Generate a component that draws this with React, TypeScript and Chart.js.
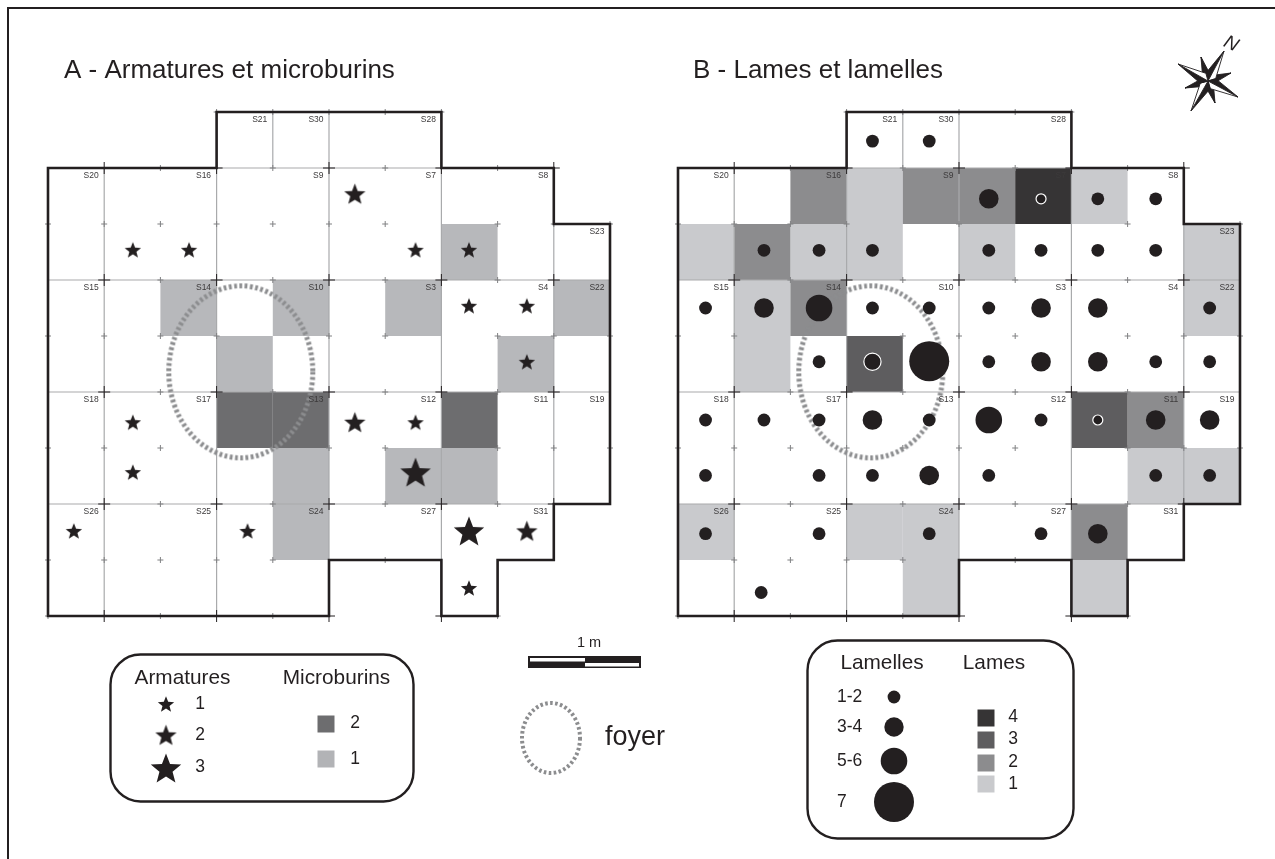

import React, { useEffect, useRef } from "react";
import { Chart, registerables } from "chart.js";

Chart.register(...registerables);

const W = 1275, H = 859;
const CW = 56.2, CH = 56, AX0 = 48, BX0 = 678, Y0 = 112;
const INK = "#231f20";

// ---- data ---- (grid units: one unit = one square)
const outline: number[][] = [[3,0],[7,0],[7,1],[9,1],[9,2],[10,2],[10,7],[9,7],[9,8],[8,8],[8,9],[7,9],[7,8],[5,8],[5,9],[0,9],[0,1],[3,1],[3,0]];
const gridSegments: number[][][] = [
  [[1,1],[1,9]],[[3,1],[3,9]],[[4,0],[4,1]],[[5,0],[5,8]],[[7,1],[7,8]],[[9,2],[9,7]],[[9,7],[9,8]],
  [[3,1],[7,1]],[[0,3],[10,3]],[[0,5],[10,5]],[[0,7],[10,7]],
];
const blackTicks: number[][] = [[1,1],[3,1],[5,1],[7,1],[9,1],[1,3],[3,3],[5,3],[7,3],[9,3],[1,5],[3,5],[5,5],[7,5],[9,5],[1,7],[3,7],[5,7],[7,7],[9,7],[1,9],[3,9],[5,9],[7,9]];
const smallTicksA: number[][] = [[3,0],[4,0],[5,0],[6,0],[7,0],[2,1],[4,1],[6,1],[8,1],[0,2],[1,2],[2,2],[3,2],[4,2],[5,2],[6,2],[8,2],[9,2],[10,2],[2,3],[4,3],[6,3],[8,3],[0,4],[1,4],[2,4],[3,4],[5,4],[6,4],[8,4],[9,4],[10,4],[2,5],[4,5],[6,5],[8,5],[0,6],[1,6],[2,6],[5,6],[6,6],[8,6],[9,6],[10,6],[2,7],[4,7],[6,7],[8,7],[0,8],[1,8],[2,8],[3,8],[4,8],[6,8],[0,9],[2,9],[4,9],[8,9]];
const smallTicksB: number[][] = [[3,0],[4,0],[5,0],[6,0],[7,0],[2,1],[4,1],[6,1],[8,1],[0,2],[1,2],[2,2],[3,2],[5,2],[8,2],[10,2],[2,3],[4,3],[6,3],[8,3],[0,4],[1,4],[4,4],[5,4],[6,4],[8,4],[9,4],[10,4],[2,5],[4,5],[6,5],[8,5],[0,6],[1,6],[2,6],[3,6],[4,6],[5,6],[6,6],[8,6],[9,6],[10,6],[2,7],[4,7],[6,7],[8,7],[1,8],[2,8],[3,8],[4,8],[6,8],[0,9],[2,9],[4,9],[8,9]];

const microburins1: number[][] = [[7,2],[2,3],[4,3],[6,3],[9,3],[3,4],[8,4],[4,6],[6,6],[7,6],[4,7]];
const microburins2: number[][] = [[3,5],[4,5],[7,5]];

const lames1: number[][] = [[3,1],[7,1],[0,2],[2,2],[3,2],[5,2],[9,2],[1,3],[9,3],[1,4],[8,6],[9,6],[0,7],[3,7],[4,7],[4,8],[7,8]];
const lames2: number[][] = [[2,1],[4,1],[5,1],[1,2],[2,3],[8,5],[7,7]];
const lames3: number[][] = [[3,4],[7,5]];
const lames4: number[][] = [[6,1]];

const armatures1: number[][] = [[1.51,2.46],[2.51,2.46],[6.54,2.46],[7.49,2.46],[7.49,3.46],[8.52,3.46],[8.52,4.46],[1.51,5.54],[6.54,5.54],[1.51,6.43],[0.46,7.48],[3.55,7.48],[7.49,8.5]];
const armatures2: number[][] = [[5.46,1.46],[5.46,5.54],[8.52,7.48]];
const armatures3: number[][] = [[6.54,6.43],[7.49,7.48]];

const lamelles12: number[][] = [[3.46,0.52],[4.47,0.52],[7.47,1.55],[8.5,1.55],[1.53,2.47],[2.51,2.47],[3.46,2.47],[5.53,2.47],[6.46,2.47],[7.47,2.47],[8.5,2.47],[0.49,3.5],[3.46,3.5],[4.47,3.5],[5.53,3.5],[9.46,3.5],[2.51,4.46],[5.53,4.46],[8.5,4.46],[9.46,4.46],[0.49,5.5],[1.53,5.5],[2.51,5.5],[4.47,5.5],[6.46,5.5],[0.49,6.49],[2.51,6.49],[3.46,6.49],[5.53,6.49],[8.5,6.49],[9.46,6.49],[0.49,7.53],[2.51,7.53],[4.47,7.53],[6.46,7.53],[1.48,8.58]];
const lamelles34: number[][] = [[5.53,1.55],[1.53,3.5],[6.46,3.5],[7.47,3.5],[6.46,4.46],[7.47,4.46],[3.46,5.5],[8.5,5.5],[9.46,5.5],[4.47,6.49],[7.47,7.53]];
const lamelles56: number[][] = [[2.51,3.5],[5.53,5.5]];
const lamelles7: number[][] = [[4.47,4.45]];
const lamellesRingSmall: number[][] = [[6.46,1.55],[7.47,5.5]];
const lamellesRingMedium: number[][] = [[3.46,4.46]];

const foyerCentre: number[][] = [[3.43,4.64]];

const squareLabels: [string, number, number][] = [
  ["S21",4,0],["S30",5,0],["S28",7,0],["S20",1,1],["S16",3,1],["S9",5,1],["S7",7,1],["S8",9,1],["S23",10,2],
  ["S15",1,3],["S14",3,3],["S10",5,3],["S3",7,3],["S4",9,3],["S22",10,3],["S18",1,5],["S17",3,5],["S13",5,5],
  ["S12",7,5],["S11",9,5],["S19",10,5],["S26",1,7],["S25",3,7],["S24",5,7],["S27",7,7],["S31",9,7],
];

// legend marks (page units)
const legendStars: number[][][] = [[[166,704]],[[166,735]],[[166,768]]];
const legendMicro: number[][][] = [[[326,724]],[[326,759]]];
const legendFoyer: number[][] = [[551,738]];
const legendLamelles: number[][][] = [[[894,697]],[[894,727]],[[894,761]],[[894,802]]];
const legendLames: number[][][] = [[[986,718]],[[986,740]],[[986,763]],[[986,784]]];

type T = [string, number, number, number, string];
const texts: T[] = [
  ["A - Armatures et microburins",64,71,26,"left"],
  ["B - Lames et lamelles",693,71,26,"left"],
  ["Armatures",182.5,678,20.8,"center"],["Microburins",336.5,678,20.8,"center"],
  ["1",200,704,17.5,"center"],["2",200,735,17.5,"center"],["3",200,767,17.5,"center"],
  ["2",355,723,17.5,"center"],["1",355,759,17.5,"center"],
  ["1 m",589,643,14.5,"center"],["foyer",605,738,27,"left"],
  ["Lamelles",882,663,20.8,"center"],["Lames",994,663,20.8,"center"],
  ["1-2",837,697,17.5,"left"],["3-4",837,727,17.5,"left"],["5-6",837,761,17.5,"left"],["7",837,802,17.5,"left"],
  ["4",1013,717,17.5,"center"],["3",1013,739,17.5,"center"],["2",1013,762,17.5,"center"],["1",1013,784,17.5,"center"],
];

// ---- helpers ----
const pts = (a: number[][]) => a.map(([x, y]) => ({ x, y }));

function starImage(r: number) {
  const s = Math.ceil(r * 2 + 6);
  const c = document.createElement("canvas");
  c.width = s; c.height = s;
  const g = c.getContext("2d")!;
  g.translate(s / 2, s / 2 + r * 0.095);
  g.beginPath();
  for (let i = 0; i < 10; i++) {
    const rr = i % 2 ? r * 0.43 : r;
    const a = -Math.PI / 2 + (i * Math.PI) / 5;
    g.lineTo(rr * Math.cos(a), rr * Math.sin(a));
  }
  g.closePath();
  g.fillStyle = INK;
  g.fill();
  return c;
}

function ellipseImage(rx: number, ry: number, lw: number, dash: number[]) {
  const w = Math.ceil(rx * 2 + lw + 4), h = Math.ceil(ry * 2 + lw + 4);
  const c = document.createElement("canvas");
  c.width = w; c.height = h;
  const g = c.getContext("2d")!;
  g.beginPath();
  g.ellipse(w / 2, h / 2, rx, ry, 0, 0, Math.PI * 2);
  g.lineWidth = lw;
  g.setLineDash(dash);
  g.strokeStyle = "#8c8d8f";
  g.stroke();
  return c;
}

function arm(g: CanvasRenderingContext2D, x: number, y: number, inner: number, whiteSide: boolean) {
  const a = Math.atan2(y, x);
  const lx = Math.cos(a - Math.PI / 4) * inner, ly = Math.sin(a - Math.PI / 4) * inner;
  const rx = Math.cos(a + Math.PI / 4) * inner, ry = Math.sin(a + Math.PI / 4) * inner;
  g.lineWidth = 0.9;
  g.strokeStyle = INK;
  g.beginPath(); g.moveTo(0, 0); g.lineTo(lx, ly); g.lineTo(x, y); g.closePath();
  g.fillStyle = INK; g.fill(); g.stroke();
  g.beginPath(); g.moveTo(0, 0); g.lineTo(rx, ry); g.lineTo(x, y); g.closePath();
  g.fillStyle = whiteSide ? "#fff" : INK; g.fill(); g.stroke();
}

const pagePlugin = {
  id: "page",
  beforeDatasetsDraw(chart: any) {
    const g = chart.ctx as CanvasRenderingContext2D;
    g.save();
    g.fillStyle = "#fff";
    g.fillRect(0, 0, W, H);
    // frame
    g.strokeStyle = INK;
    g.lineWidth = 2;
    g.beginPath();
    g.moveTo(8, H); g.lineTo(8, 8); g.lineTo(W, 8);
    g.stroke();
    // legend boxes
    g.lineWidth = 2.4;
    g.beginPath(); g.roundRect(110.5, 654.5, 303, 147, 30); g.stroke();
    g.beginPath(); g.roundRect(807.5, 640.5, 266, 198, 30); g.stroke();
    // scale bar
    g.fillStyle = INK;
    g.fillRect(528, 656, 113, 12);
    g.fillStyle = "#fff";
    g.fillRect(530, 658, 55, 3.5);
    g.fillRect(585, 663, 54, 3.5);
    g.restore();
  },
  afterDatasetsDraw(chart: any) {
    const g = chart.ctx as CanvasRenderingContext2D;
    g.save();
    // square labels
    g.font = '8.5px "Liberation Sans"';
    g.fillStyle = "#3c3a3b";
    g.textAlign = "right";
    g.textBaseline = "middle";
    for (const id of ["xA", "xB"]) {
      for (const [t, c, r] of squareLabels) {
        g.fillText(t, chart.scales[id].getPixelForValue(c) - 5.5, chart.scales.y.getPixelForValue(r) + 7.5);
      }
    }
    // page texts
    g.fillStyle = INK;
    for (const [t, x, y, s, al] of texts) {
      g.font = `${s}px "Liberation Sans"`;
      g.textAlign = al as CanvasTextAlign;
      g.fillText(t, x, y);
    }
    // compass
    g.translate(1208, 81);
    ([[-7,-24],[23,-8],[7,22],[-23,7]] as number[][]).forEach(([x, y]) => arm(g, x, y, 6, false));
    ([[16,-30],[30,16],[-17,30],[-30,-17]] as number[][]).forEach(([x, y]) => arm(g, x, y, 8, true));
    g.fillStyle = INK;
    g.save();
    g.translate(23, -37);
    g.rotate(0.45);
    g.font = 'italic 19px "Liberation Sans"';
    g.textAlign = "center";
    g.fillText("N", 0, 0);
    g.restore();
    g.restore();
  },
};

const rectR = (side: number) => side / Math.SQRT2;

export default function App() {
  const ref = useRef<HTMLCanvasElement>(null);
  useEffect(() => {
    const star1 = starImage(8.6), star2 = starImage(11.2), star3 = starImage(16);
    const foyer = ellipseImage(72, 86, 5, [2.8, 2.5]);
    const foyerSmall = ellipseImage(29, 35, 4, [2.6, 2.4]);
    const ds: any[] = [];
    const marks = (data: number[][], style: any, r: number, color: string, xAxisID: string, yAxisID = "y", extra: any = {}) =>
      ds.push({ data: pts(data), xAxisID, yAxisID, showLine: false, pointStyle: style, pointRadius: r, pointBackgroundColor: color, pointBorderWidth: 0, ...extra });
    const cells = (a: number[][]) => a.map(([c, r]) => [c + 0.5, r + 0.5]);
    const line = (data: any[], color: string, width: number, xAxisID: string) =>
      ds.push({ data, xAxisID, yAxisID: "y", showLine: true, pointRadius: 0, borderColor: color, borderWidth: width, borderJoinStyle: "miter", borderCapStyle: "square", spanGaps: false, tension: 0 });
    const segs = gridSegments.flatMap((s) => [...pts(s), { x: NaN, y: NaN }]);

    // A
    marks(cells(microburins1), "rect", rectR(56.2), "#b7b8bb", "xA");
    marks(cells(microburins2), "rect", rectR(56.2), "#6d6d6f", "xA");
    line(segs, "#a9aaac", 1.2, "xA");
    marks(smallTicksA, "cross", 3, "#000", "xA", "y", { pointBorderColor: "#808183", pointBorderWidth: 1 });
    marks(blackTicks, "cross", 6, "#000", "xA", "y", { pointBorderColor: INK, pointBorderWidth: 1 });
    marks(foyerCentre, foyer, 1, "#000", "xA");
    line(pts(outline), INK, 2.6, "xA");
    marks(armatures1, star1, 1, INK, "xA");
    marks(armatures2, star2, 1, INK, "xA");
    marks(armatures3, star3, 1, INK, "xA");

    // B
    marks(cells(lames1), "rect", rectR(56.2), "#c9cacd", "xB");
    marks(cells(lames2), "rect", rectR(56.2), "#8c8c8e", "xB");
    marks(cells(lames3), "rect", rectR(56.2), "#5e5d5f", "xB");
    marks(cells(lames4), "rect", rectR(56.2), "#363435", "xB");
    line(segs, "#a9aaac", 1.2, "xB");
    marks(smallTicksB, "cross", 3, "#000", "xB", "y", { pointBorderColor: "#808183", pointBorderWidth: 1 });
    marks(blackTicks, "cross", 6, "#000", "xB", "y", { pointBorderColor: INK, pointBorderWidth: 1 });
    marks(foyerCentre, foyer, 1, "#000", "xB");
    line(pts(outline), INK, 2.6, "xB");
    marks(lamelles12, "circle", 6.4, INK, "xB");
    marks(lamelles34, "circle", 9.8, INK, "xB");
    marks(lamelles56, "circle", 13.3, INK, "xB");
    marks(lamelles7, "circle", 20, INK, "xB");
    marks(lamellesRingSmall, "circle", 5, INK, "xB", "y", { pointBorderColor: "#fff", pointBorderWidth: 1.2 });
    marks(lamellesRingMedium, "circle", 8.6, INK, "xB", "y", { pointBorderColor: "#fff", pointBorderWidth: 1.2 });

    // legends
    [star1, star2, star3].forEach((s, i) => marks(legendStars[i], s, 1, INK, "px", "py"));
    marks(legendMicro[0], "rect", rectR(17), "#6d6d6f", "px", "py");
    marks(legendMicro[1], "rect", rectR(17), "#b2b3b6", "px", "py");
    marks(legendFoyer, foyerSmall, 1, "#000", "px", "py");
    [6.4, 9.7, 13.3, 20].forEach((r, i) => marks(legendLamelles[i], "circle", r, INK, "px", "py"));
    ["#363435", "#5e5d5f", "#8c8c8e", "#c9cacd"].forEach((c, i) => marks(legendLames[i], "rect", rectR(17), c, "px", "py"));

    ds.forEach((d, i) => { d.order = -i; d.clip = false; });

    const hidden = { type: "linear", display: false };
    const chart = new Chart(ref.current!, {
      type: "scatter",
      data: { datasets: ds },
      plugins: [pagePlugin],
      options: {
        animation: false,
        responsive: false,
        events: [],
        layout: { padding: 0, autoPadding: false },
        plugins: { legend: { display: false }, tooltip: { enabled: false } },
        scales: {
          xA: { ...hidden, axis: "x", min: -AX0 / CW, max: (W - AX0) / CW },
          xB: { ...hidden, axis: "x", min: -BX0 / CW, max: (W - BX0) / CW },
          y: { ...hidden, reverse: true, min: -Y0 / CH, max: (H - Y0) / CH },
          px: { ...hidden, axis: "x", min: 0, max: W },
          py: { ...hidden, axis: "y", reverse: true, min: 0, max: H },
        },
      } as any,
    });
    return () => chart.destroy();
  }, []);
  return (
    <div style={{ position: "fixed", left: 0, top: 0, width: W, height: H, background: "#fff" }}>
      <canvas ref={ref} width={W} height={H} style={{ display: "block" }} />
    </div>
  );
}
